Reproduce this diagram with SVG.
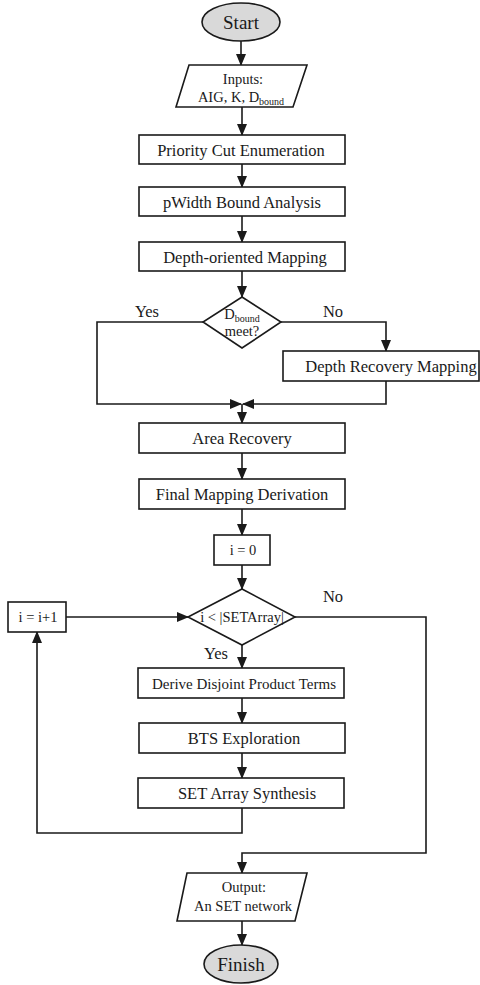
<svg xmlns="http://www.w3.org/2000/svg" width="480" height="985" viewBox="0 0 480 985">
<defs>
<marker id="ah" markerWidth="12" markerHeight="10" refX="11" refY="5" orient="auto" markerUnits="userSpaceOnUse">
<path d="M0,0 L12,5 L0,10 Z" fill="#1a1a1a"/>
</marker>
<style>
.box{fill:#fff;stroke:#1a1a1a;stroke-width:1.6}
.term{fill:#d9d9d9;stroke:#1a1a1a;stroke-width:1.6}
.ln{fill:none;stroke:#1a1a1a;stroke-width:1.6}
.ar{fill:none;stroke:#1a1a1a;stroke-width:1.6;marker-end:url(#ah)}
text{font-family:"Liberation Serif","Times New Roman",serif;fill:#1a1a1a;text-anchor:middle}
.t{font-size:16.5px}
.t2{font-size:15px}
.s{font-size:14.5px}
.big{font-size:19px}
.sub{font-size:10px}
</style>
</defs>
<rect width="480" height="985" fill="#fff"/>
<g id="connectors">
<line class="ar" x1="241" y1="41" x2="241" y2="65"/>
<line class="ar" x1="242" y1="107" x2="242" y2="135"/>
<line class="ar" x1="242" y1="164" x2="242" y2="187"/>
<line class="ar" x1="242" y1="216" x2="242" y2="242"/>
<line class="ar" x1="242" y1="271" x2="242" y2="297"/>
<polyline class="ar" points="203,322 97,322 97,404 241,404"/>
<polyline class="ar" points="281,322 386,322 386,351"/>
<polyline class="ar" points="386,381 386,404 243,404"/>
<line class="ar" x1="242" y1="404" x2="242" y2="423"/>
<line class="ar" x1="242" y1="453" x2="242" y2="479"/>
<line class="ar" x1="242" y1="509" x2="242" y2="535"/>
<line class="ar" x1="242" y1="565" x2="242" y2="589"/>
<line class="ar" x1="66" y1="617" x2="188" y2="617"/>
<line class="ar" x1="242" y1="645" x2="242" y2="668"/>
<line class="ar" x1="242" y1="698" x2="242" y2="723"/>
<line class="ar" x1="242" y1="753" x2="242" y2="778"/>
<polyline class="ar" points="242,808 242,833 37,833 37,632"/>
<polyline class="ar" points="295,617 426,617 426,853 242,853 242,873"/>
<line class="ar" x1="242" y1="921" x2="242" y2="945"/>
<text class="t" x="147" y="317">Yes</text>
<text class="t" x="333" y="317">No</text>
<text class="t" x="333" y="602">No</text>
<text class="t" x="216" y="659">Yes</text>
</g>
<g id="start">
<ellipse class="term" cx="241" cy="22" rx="39" ry="19"/>
<text class="big" x="241" y="29">Start</text>
</g>
<g id="inputs">
<polygon class="box" points="189,65 307,65 293,107 176,107"/>
<text class="s" x="243" y="84">Inputs:</text>
<text class="s" x="241" y="102">AIG, K, D<tspan class="sub" dy="3">bound</tspan></text>
</g>
<g id="priority">
<rect class="box" x="139" y="135" width="206" height="29"/>
<text class="t" x="241" y="156">Priority Cut Enumeration</text>
</g>
<g id="pwidth">
<rect class="box" x="139" y="187" width="206" height="29"/>
<text class="t" x="242" y="208">pWidth Bound Analysis</text>
</g>
<g id="depthmap">
<rect class="box" x="139" y="242" width="206" height="29"/>
<text class="t" x="245" y="263">Depth-oriented Mapping</text>
</g>
<g id="dbound">
<polygon class="box" points="242,297 281,322 242,348 203,322"/>
<text class="s" x="242" y="319">D<tspan class="sub" dy="3">bound</tspan></text>
<text class="s" x="242" y="336">meet?</text>
</g>
<g id="recovery">
<rect class="box" x="283" y="351" width="196" height="30"/>
<text class="t" x="391" y="372">Depth Recovery Mapping</text>
</g>
<g id="area">
<rect class="box" x="139" y="423" width="206" height="30"/>
<text class="t" x="242" y="444">Area Recovery</text>
</g>
<g id="final">
<rect class="box" x="139" y="479" width="206" height="30"/>
<text class="t" x="242" y="500">Final Mapping Derivation</text>
</g>
<g id="init">
<rect class="box" x="214" y="535" width="56" height="30"/>
<text class="s" x="243" y="555">i = 0</text>
</g>
<g id="cond">
<polygon class="box" points="242,589 295,617 242,645 188,617"/>
<text class="s" x="242" y="622">i &lt; |SETArray|</text>
</g>
<g id="incr">
<rect class="box" x="8" y="602" width="58" height="30"/>
<text class="s" x="38" y="622">i = i+1</text>
</g>
<g id="derive">
<rect class="box" x="138" y="668" width="206" height="30"/>
<text class="t2" x="244" y="689">Derive Disjoint Product Terms</text>
</g>
<g id="bts">
<rect class="box" x="139" y="723" width="206" height="30"/>
<text class="t" x="244" y="744">BTS Exploration</text>
</g>
<g id="synth">
<rect class="box" x="138" y="778" width="206" height="30"/>
<text class="t" x="247" y="799">SET Array Synthesis</text>
</g>
<g id="output">
<polygon class="box" points="187,873 307,873 295,921 177,921"/>
<text class="s" x="244" y="892">Output:</text>
<text class="s" x="243" y="911">An SET network</text>
</g>
<g id="finish">
<ellipse class="term" cx="241" cy="964" rx="37" ry="19"/>
<text class="big" x="241" y="971">Finish</text>
</g>
</svg>
